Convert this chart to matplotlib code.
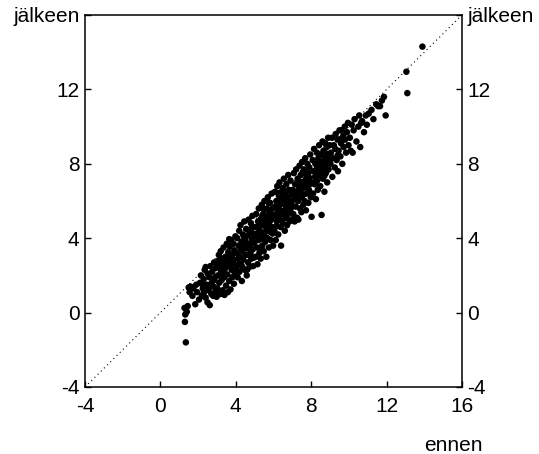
import matplotlib
matplotlib.use("Agg")
import matplotlib.pyplot as plt

plt.rcParams['font.family'] = ['Liberation Sans', 'DejaVu Sans']

# ennen (before) values
x_vals = [
    1.35, 1.3, 1.32, 1.4, 1.28, 1.45, 1.5, 1.6, 1.75, 1.85, 1.9, 1.7, 1.95, 1.55,
    2.05, 2.1, 2.15, 2.2, 2.25, 2.3, 2.35, 2.4, 2.45, 2.5, 2.5, 2.55, 2.6, 2.62, 2.65, 2.7, 2.72, 2.75, 2.8, 2.82, 2.85, 2.9, 2.92, 2.95, 2.98, 2.3, 2.6, 2.85, 2.4, 2.2,
    3.02, 3.05, 3.08, 3.1, 3.12, 3.15, 3.18, 3.2, 3.22, 3.25, 3.28, 3.3, 3.32, 3.35, 3.38, 3.4, 3.42, 3.45, 3.48, 3.5, 3.52, 3.55, 3.58, 3.6, 3.62, 3.65, 3.68, 3.7, 3.72, 3.75, 3.78, 3.8, 3.82, 3.85, 3.88, 3.9, 3.92, 3.95, 3.98, 3.1, 3.35, 3.55, 3.75, 3.9, 3.65,
    4.02, 4.05, 4.08, 4.1, 4.12, 4.15, 4.18, 4.2, 4.22, 4.25, 4.28, 4.3, 4.32, 4.35, 4.38, 4.4, 4.42, 4.45, 4.48, 4.5, 4.52, 4.55, 4.58, 4.6, 4.62, 4.65, 4.68, 4.7, 4.72, 4.75, 4.78, 4.8, 4.82, 4.85, 4.88, 4.9, 4.92, 4.95, 4.98, 4.15, 4.35, 4.55, 4.75, 4.9, 4.25, 4.45, 4.65, 4.85, 4.6, 4.95,
    5.02, 5.05, 5.08, 5.1, 5.12, 5.15, 5.18, 5.2, 5.22, 5.25, 5.28, 5.3, 5.32, 5.35, 5.38, 5.4, 5.42, 5.45, 5.48, 5.5, 5.52, 5.55, 5.58, 5.6, 5.62, 5.65, 5.68, 5.7, 5.72, 5.75, 5.78, 5.8, 5.82, 5.85, 5.88, 5.9, 5.92, 5.95, 5.98, 5.1, 5.3, 5.5, 5.7, 5.9, 5.2, 5.4, 5.6, 5.8, 5.45, 5.65, 5.85, 5.35, 5.55, 5.75, 5.95,
    6.02, 6.05, 6.08, 6.1, 6.12, 6.15, 6.18, 6.2, 6.22, 6.25, 6.28, 6.3, 6.32, 6.35, 6.38, 6.4, 6.42, 6.45, 6.48, 6.5, 6.52, 6.55, 6.58, 6.6, 6.62, 6.65, 6.68, 6.7, 6.72, 6.75, 6.78, 6.8, 6.82, 6.85, 6.88, 6.9, 6.92, 6.95, 6.98, 6.1, 6.3, 6.5, 6.7, 6.9, 6.2, 6.4, 6.6, 6.8, 6.15, 6.45, 6.75, 6.35, 6.55, 6.85, 6.25, 6.65, 6.95,
    7.02, 7.05, 7.08, 7.1, 7.12, 7.15, 7.18, 7.2, 7.22, 7.25, 7.28, 7.3, 7.32, 7.35, 7.38, 7.4, 7.42, 7.45, 7.48, 7.5, 7.52, 7.55, 7.58, 7.6, 7.62, 7.65, 7.68, 7.7, 7.72, 7.75, 7.78, 7.8, 7.82, 7.85, 7.88, 7.9, 7.92, 7.95, 7.98, 7.1, 7.3, 7.5, 7.7, 7.9, 7.4, 7.6, 7.8, 7.25, 7.55, 7.85,
    8.02, 8.05, 8.08, 8.1, 8.12, 8.15, 8.18, 8.2, 8.22, 8.25, 8.28, 8.3, 8.32, 8.35, 8.38, 8.4, 8.42, 8.45, 8.48, 8.5, 8.55, 8.55, 8.58, 8.6, 8.62, 8.65, 8.68, 8.7, 8.72, 8.75, 8.78, 8.8, 8.82, 8.85, 8.88, 8.9, 8.92, 8.95, 8.98, 8.2, 8.4, 8.6, 8.8, 8.3, 8.7,
    9.02, 9.05, 9.1, 9.12, 9.15, 9.2, 9.25, 9.28, 9.3, 9.35, 9.4, 9.42, 9.45, 9.5, 9.55, 9.58, 9.6, 9.65, 9.7, 9.72, 9.78, 9.8, 9.85, 9.9, 9.95, 9.98, 9.4, 9.6,
    10.05, 10.1, 10.15, 10.2, 10.25, 10.3, 10.4, 10.5, 10.55, 10.6, 10.65, 10.7, 10.8, 10.9, 10.95,
    11.05, 11.2, 11.3, 11.45, 11.55, 11.65, 11.86, 11.95, 11.75,
    13.05, 13.1, 13.9,
]

# jälkeen (after) values
y_vals = [
    -1.6, -0.5, -0.1, 0.05, 0.25, 0.35, 1.35, 1.4, 1.3, 0.45, 1.5, 0.9, 1.1, 1.1,
    0.7, 1.6, 2.0, 0.9, 1.3, 1.8, 2.3, 0.8, 1.5, 0.55, 2.1, 1.2, 1.9, 0.4, 2.5, 1.0, 1.6, 2.2, 0.9, 1.4, 2.7, 1.9, 1.15, 2.4, 0.85, 1.05, 1.35, 1.75, 2.45, 1.55,
    1.3, 2.0, 2.8, 3.1, 1.6, 2.4, 1.0, 3.3, 2.2, 1.75, 2.9, 1.2, 2.6, 3.5, 1.9, 0.95, 2.35, 3.0, 1.45, 2.75, 3.7, 2.05, 1.1, 3.25, 2.5, 1.7, 3.55, 2.9, 1.25, 3.9, 2.3, 3.1, 1.9, 2.65, 3.7, 1.55, 3.35, 2.1, 4.1, 2.55, 2.05, 2.95, 2.6, 2.85, 3.95,
    2.4, 3.2, 4.0, 1.9, 2.9, 3.6, 4.4, 2.2, 3.0, 4.7, 2.6, 3.8, 1.7, 3.3, 4.2, 2.85, 3.55, 4.9, 2.3, 3.9, 3.1, 4.5, 2.0, 3.45, 4.15, 2.7, 5.0, 3.7, 2.45, 4.3, 3.2, 4.8, 2.9, 3.95, 5.2, 3.4, 2.5, 4.6, 3.75, 2.6, 2.45, 3.65, 3.6, 4.25, 3.45, 4.05, 3.1, 4.55, 2.3, 2.95,
    4.1, 3.0, 5.3, 4.6, 3.5, 2.6, 4.9, 3.9, 5.6, 3.2, 4.4, 5.0, 2.9, 4.1, 5.8, 3.6, 4.7, 5.3, 3.3, 4.3, 6.0, 3.8, 5.1, 4.6, 3.0, 5.6, 4.0, 6.2, 4.8, 3.5, 5.35, 4.35, 5.9, 3.9, 5.0, 6.4, 4.6, 5.6, 3.6, 4.25, 4.75, 5.55, 5.15, 5.3, 4.55, 5.15, 4.05, 4.9, 3.95, 4.45, 4.55, 3.45, 4.9, 5.9, 4.25,
    5.2, 4.4, 6.5, 5.7, 3.9, 6.0, 4.9, 6.8, 5.4, 4.2, 6.3, 5.0, 7.0, 5.8, 4.6, 3.6, 6.1, 5.3, 6.7, 4.8, 5.9, 7.2, 5.5, 4.4, 6.4, 5.1, 6.9, 5.8, 4.7, 6.2, 7.4, 5.4, 6.6, 4.9, 6.0, 7.1, 5.6, 6.35, 5.0, 5.25, 5.55, 6.25, 6.05, 6.55, 5.95, 5.45, 5.8, 5.95, 4.65, 4.95, 5.25, 6.45, 6.55, 5.7, 5.15, 5.4, 5.85,
    6.6, 5.3, 7.5, 6.1, 4.9, 6.9, 5.7, 7.7, 6.3, 5.1, 7.2, 6.0, 5.0, 6.8, 7.9, 5.6, 6.5, 7.4, 5.4, 6.2, 8.1, 7.0, 5.8, 6.7, 7.7, 6.0, 8.3, 6.9, 5.5, 7.4, 6.4, 8.0, 7.1, 5.9, 6.6, 7.8, 6.9, 8.5, 6.2, 6.45, 6.55, 6.95, 7.15, 7.25, 7.05, 6.35, 6.75, 6.05, 7.55, 7.5,
    5.15, 7.0, 8.2, 6.4, 7.6, 8.8, 6.9, 7.3, 8.0, 6.1, 7.7, 8.6, 7.1, 6.6, 8.3, 7.4, 9.0, 7.9, 6.8, 8.5, 5.25, 7.6, 8.1, 9.2, 7.2, 8.7, 7.8, 6.5, 8.3, 9.1, 7.5, 8.0, 8.9, 7.0, 8.5, 9.4, 7.7, 8.2, 9.0, 7.0, 8.05, 7.9, 8.55, 7.55, 7.35,
    8.0, 8.6, 9.4, 7.3, 8.3, 9.0, 7.8, 8.8, 9.6, 8.2, 9.3, 7.6, 8.7, 9.8, 8.4, 9.1, 9.8, 8.0, 9.5, 8.9, 10.0, 9.3, 8.6, 9.7, 10.2, 9.0, 8.45, 9.35,
    9.4, 8.7, 10.1, 8.6, 9.8, 10.4, 9.2, 10.0, 10.6, 8.9, 10.2, 10.3, 9.7, 10.6, 10.1,
    10.7, 10.9, 10.4, 11.2, 11.1, 11.1, 11.6, 10.6, 11.4,
    12.95, 11.8, 14.3,
]

ticks = [-4, 0, 4, 8, 12, 16]
x_tick_labels = ["-4", "0", "4", "8", "12", "16"]
y_tick_labels = ["-4", "0", "4", "8", "12", "jälkeen"]

fig = plt.figure(figsize=(5.39, 4.54), dpi=100)
ax = fig.add_axes([85/539, 1 - 387/454, 377/539, 372/454])

ax.plot([-4, 16], [-4, 16], color='black', lw=0.8, linestyle=(0, (1, 3)))
ax.scatter(x_vals, y_vals, s=22, color='black', edgecolors='none', zorder=3)

ax.set_xlim(-4, 16)
ax.set_ylim(-4, 16)
ax.set_xticks(ticks)
ax.set_xticklabels(x_tick_labels)
ax.set_yticks(ticks)
ax.set_yticklabels(y_tick_labels)

ax.tick_params(axis='both', direction='in', length=4, width=1.0, labelsize=15, color='black')
ax.tick_params(axis='x', pad=7, top=False)
ax.tick_params(axis='y', pad=4, left=True, right=True, labelleft=True, labelright=True)

for sp in ax.spines.values():
    sp.set_linewidth(1.1)

ax.text(0.976, -0.157, "ennen", transform=ax.transAxes, ha='center', va='center', fontsize=15)

fig.savefig("out.png", dpi=100)
